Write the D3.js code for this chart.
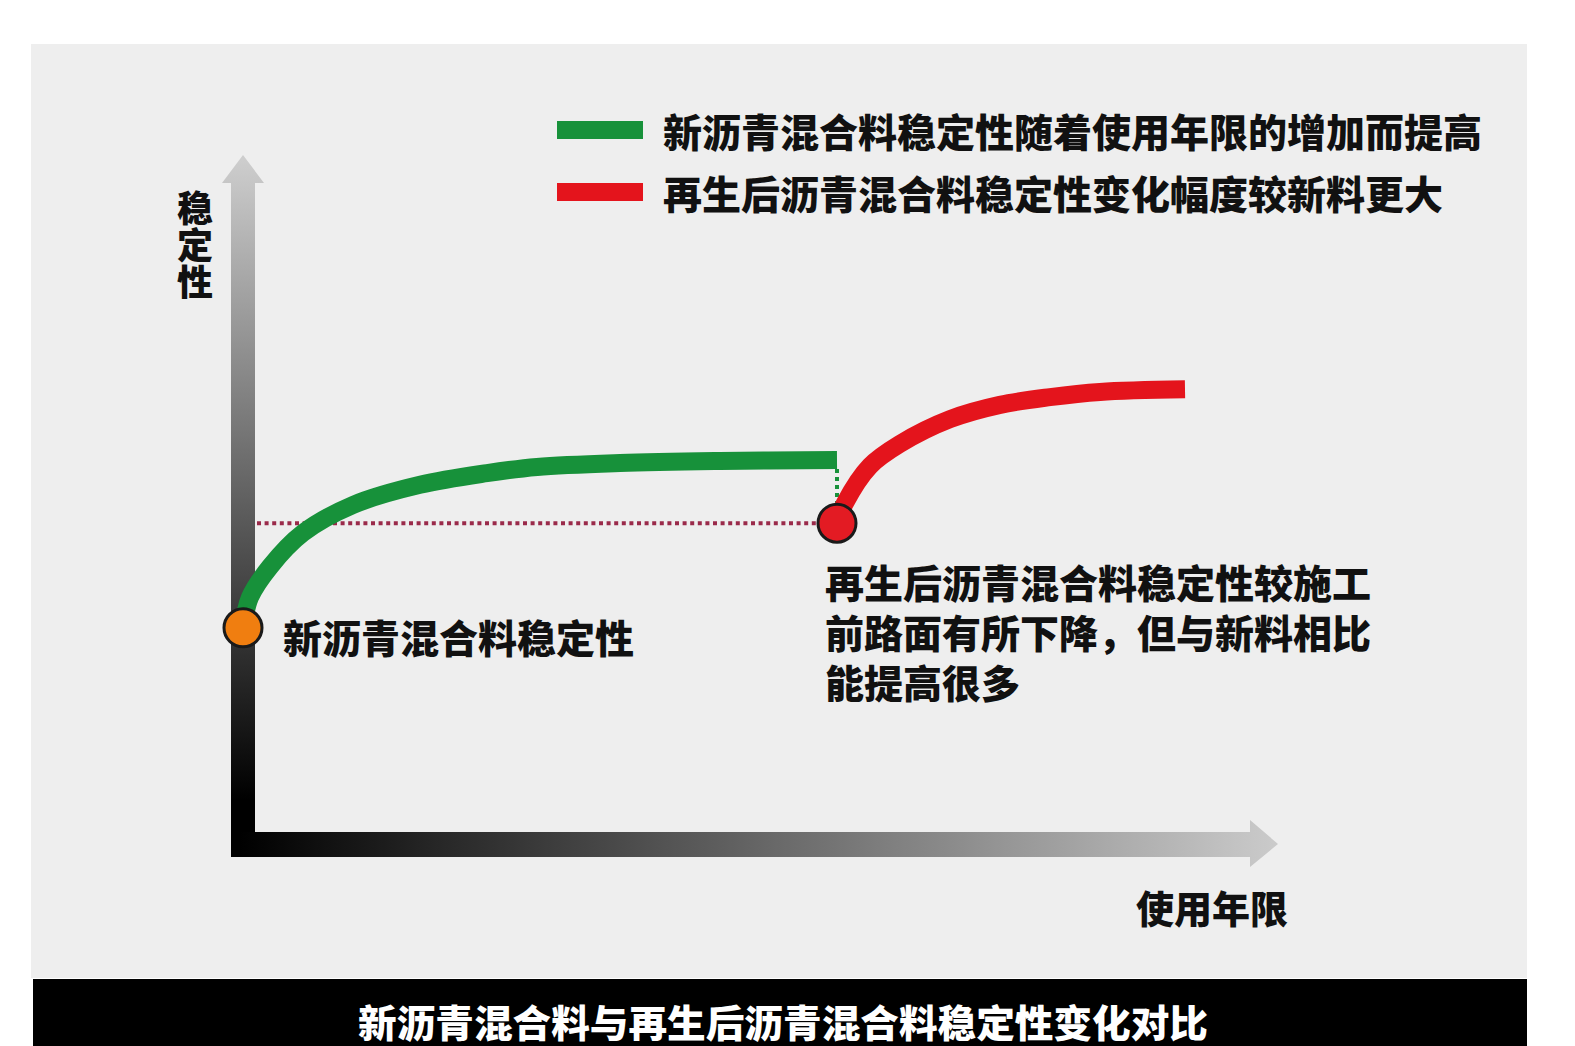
<!DOCTYPE html>
<meta charset="utf-8">
<script src="https://d3js.org/d3.v7.min.js"></script>
<style>
  body { margin: 0; background: #fff; }
  text { font-family: "Noto Sans CJK SC", sans-serif; font-weight: 900; }
</style>
<div id="chart"></div>
<script>
// data (years of use vs stability, arbitrary units)
const newMixYears = [0, 0.07, 0.27, 0.6, 1.1, 1.77, 2.44, 2.94, 3.77, 4.77, 5.94];
const newMixStability = [3.31, 3.78, 4.25, 4.77, 5.2, 5.51, 5.69, 5.785, 5.846, 5.877, 5.892];
const recycledYears = [5.94, 6.02, 6.27, 6.57, 7.07, 7.57, 8.07, 8.57, 9.42];
const recycledStability = [4.92, 5.23, 5.8, 6.14, 6.52, 6.74, 6.86, 6.94, 6.98];

const legendLabels = ["新沥青混合料稳定性随着使用年限的增加而提高", "再生后沥青混合料稳定性变化幅度较新料更大"];
const legendColors = ["#17913a", "#e4141c"];
const noteLines = ["再生后沥青混合料稳定性较施工", "前路面有所下降，但与新料相比", "能提高很多"];
const startLabel = "新沥青混合料稳定性";
const yLabel = "稳定性";
const xLabel = "使用年限";
const title = "新沥青混合料与再生后沥青混合料稳定性变化对比";

const width = 1575, height = 1046;

const x = d3.scaleLinear().domain([0, 10]).range([243, 1243]);
const y = d3.scaleLinear().domain([0, 10]).range([843, 193]);

const svg = d3.select("#chart").append("svg")
    .attr("width", width)
    .attr("height", height);

const defs = svg.append("defs");
const gy = defs.append("linearGradient").attr("id", "gy")
    .attr("gradientUnits", "userSpaceOnUse")
    .attr("x1", 0).attr("y1", 160).attr("x2", 0).attr("y2", 800);
gy.append("stop").attr("offset", 0).attr("stop-color", "#cdcdcd");
gy.append("stop").attr("offset", 1).attr("stop-color", "#000");
const gx = defs.append("linearGradient").attr("id", "gx")
    .attr("gradientUnits", "userSpaceOnUse")
    .attr("x1", 240).attr("y1", 0).attr("x2", 1278).attr("y2", 0);
gx.append("stop").attr("offset", 0).attr("stop-color", "#000");
gx.append("stop").attr("offset", 1).attr("stop-color", "#cbcbcb");

// background panel + title bar
svg.append("rect").attr("x", 31).attr("y", 44).attr("width", 1496).attr("height", 934).attr("fill", "#eeeeee");
svg.append("rect").attr("x", 33).attr("y", 979).attr("width", 1494).attr("height", 67).attr("fill", "#000");
svg.append("text")
    .attr("x", 783).attr("y", 1020)
    .attr("text-anchor", "middle").attr("dominant-baseline", "central")
    .attr("font-size", 38).attr("fill", "#fff")
    .attr("textLength", 850).attr("lengthAdjust", "spacingAndGlyphs")
    .text(title);

// axes as gradient arrows
svg.append("path")
    .attr("d", "M231,857 L231,183 L222,183 L243,155 L264,183 L255,183 L255,857 Z")
    .attr("fill", "url(#gy)");
svg.append("path")
    .attr("d", "M231,832 L1250,832 L1250,820 L1278,844 L1250,867 L1250,857 L231,857 Z")
    .attr("fill", "url(#gx)");

svg.append("text")
    .attr("x", 195).attr("y", 190)
    .attr("writing-mode", "tb")
    .attr("letter-spacing", 1)
    .attr("font-size", 36).attr("fill", "#111")
    .text(yLabel);

svg.append("text")
    .attr("x", 1136).attr("y", 906)
    .attr("dominant-baseline", "central")
    .attr("font-size", 38).attr("fill", "#111")
    .text(xLabel);

// legend
const lg = svg.append("g").selectAll("g").data(legendLabels).join("g")
    .attr("transform", (d, i) => `translate(557,${130 + i * 62})`);
lg.append("rect").attr("x", 0).attr("y", -9).attr("width", 86).attr("height", 18)
    .attr("fill", (d, i) => legendColors[i]);
lg.append("text").attr("x", 106).attr("y", 0)
    .attr("dominant-baseline", "central")
    .attr("font-size", 39).attr("fill", "#111")
    .text(d => d);

// reference dotted lines
const lastNew = newMixYears.length - 1;
svg.append("line")
    .attr("x1", 257).attr("x2", x(recycledYears[0]) - 14)
    .attr("y1", y(recycledStability[0])).attr("y2", y(recycledStability[0]))
    .attr("stroke", "#9a2a4a").attr("stroke-width", 4)
    .attr("stroke-dasharray", "4,3.6");
svg.append("line")
    .attr("x1", x(newMixYears[lastNew])).attr("x2", x(newMixYears[lastNew]))
    .attr("y1", y(newMixStability[lastNew]) + 9).attr("y2", y(recycledStability[0]) - 18)
    .attr("stroke", "#17913a").attr("stroke-width", 4)
    .attr("stroke-dasharray", "4,4");

const line = d3.line().curve(d3.curveCatmullRom.alpha(0.5))
    .x(d => x(d[0])).y(d => y(d[1]));

svg.append("path")
    .datum(d3.zip(newMixYears, newMixStability))
    .attr("d", line)
    .attr("fill", "none").attr("stroke", legendColors[0]).attr("stroke-width", 18);

svg.append("path")
    .datum(d3.zip(recycledYears, recycledStability))
    .attr("d", line)
    .attr("fill", "none").attr("stroke", legendColors[1]).attr("stroke-width", 18);

// markers
svg.append("circle")
    .attr("cx", x(newMixYears[0])).attr("cy", y(newMixStability[0])).attr("r", 19)
    .attr("fill", "#f07e10").attr("stroke", "#1a1a1a").attr("stroke-width", 3);
svg.append("circle")
    .attr("cx", x(recycledYears[0])).attr("cy", y(recycledStability[0])).attr("r", 19)
    .attr("fill", "#e31b23").attr("stroke", "#1a1a1a").attr("stroke-width", 3);

// annotations
svg.append("text")
    .attr("x", 283).attr("y", 636)
    .attr("dominant-baseline", "central")
    .attr("font-size", 39).attr("fill", "#111")
    .text(startLabel);

svg.append("text")
    .attr("font-size", 39).attr("fill", "#111")
    .selectAll("tspan").data(noteLines).join("tspan")
    .attr("x", 825).attr("y", (d, i) => 581 + i * 50)
    .attr("dominant-baseline", "central")
    .text(d => d);
</script>
